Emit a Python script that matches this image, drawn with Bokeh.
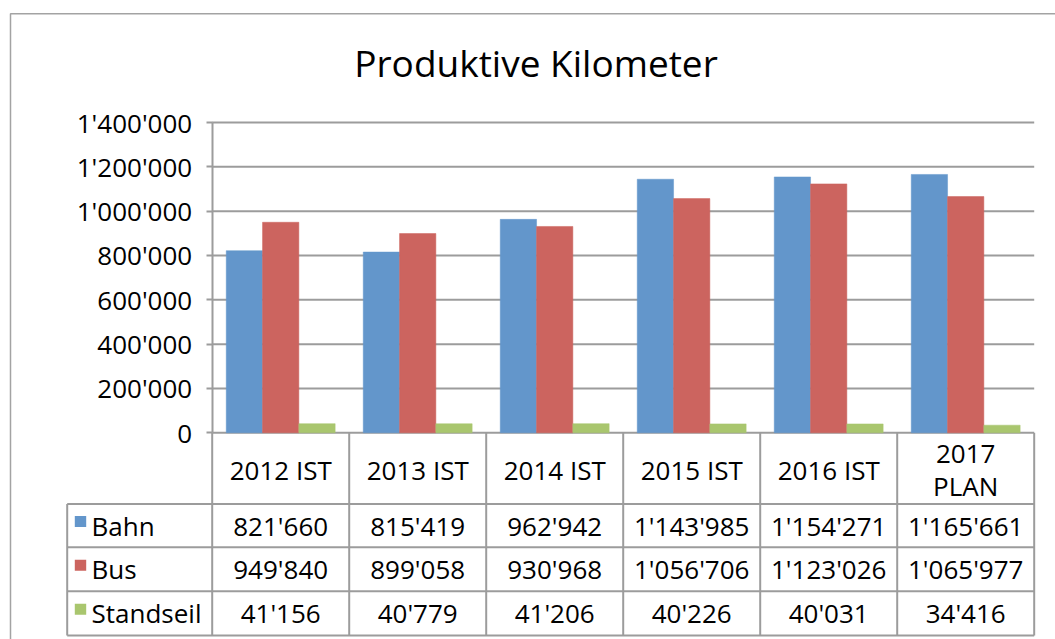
from bokeh.plotting import figure
from bokeh.models import Range1d, LinearAxis, FixedTicker, ColumnDataSource, CustomJSTickFormatter
from bokeh.core.properties import value
from bokeh.embed import file_html
from bokeh.resources import INLINE

# ---------------- data ----------------
categories = ["2012 IST", "2013 IST", "2014 IST", "2015 IST", "2016 IST", "2017\nPLAN"]
series_names = ["Bahn", "Bus", "Standseil"]
bahn = [821660, 815419, 962942, 1143985, 1154271, 1165661]
bus = [949840, 899058, 930968, 1056706, 1123026, 1065977]
standseil = [41156, 40779, 41206, 40226, 40031, 34416]
y_ticks = [0, 200000, 400000, 600000, 800000, 1000000, 1200000, 1400000]
colors = ["#6396CB", "#CC645F", "#A9C66E"]
title_text = "Produktive Kilometer"

series = [bahn, bus, standseil]


def fmt(v):
    return f"{v:,}".replace(",", "'")


# ---------------- geometry (page pixels) ----------------
W, H = 1055, 639
PX0, PY0 = 0, 0
AXIS_X = 211.7
CAT_W = 137.0
Y0_PX = 432.3
YTOP_PX = 122.0
FONT = "Open Sans"
FS = "26px"
LINE = "#9c9c9c"

xs = (PX0 - AXIS_X) / CAT_W
xe = xs + W / CAT_W
ppu = (Y0_PX - YTOP_PX) / y_ticks[-1]
ys = -(PY0 + H - Y0_PX) / ppu
ye = (Y0_PX - PY0) / ppu

p = figure(width=W, height=H, output_backend="svg", toolbar_location=None,
           x_range=Range1d(xs, xe), y_range=Range1d(ys, ye),
           x_axis_location=None, y_axis_location=None, min_border=0)
p.extra_x_ranges = {"px": Range1d(PX0, PX0 + W)}
p.extra_y_ranges = {"px": Range1d(PY0 + H, PY0)}
p.grid.visible = False
p.outline_line_color = None
p.background_fill_color = "white"
p.border_fill_color = "white"

n = len(categories)

# outer chart border
p.line(x=[10, 10, 1060], y=[645, 13.3, 13.3], x_range_name="px", y_range_name="px",
       line_color="#a3a3a3", line_width=1.5)

# gridlines (from tick values)
p.segment(x0=[0] * len(y_ticks), x1=[n] * len(y_ticks), y0=y_ticks, y1=y_ticks,
          line_color=LINE, line_width=2)

# bars
bw = 36.3 / CAT_W
for k, vals in enumerate(series):
    off = (k - 1) * bw
    src = ColumnDataSource(dict(x=[i + 0.5 + off for i in range(n)], top=vals))
    p.vbar(x="x", top="top", bottom=0, width=bw, source=src,
           fill_color=colors[k], line_color=colors[k], line_width=0.5)

# y axis
yax = LinearAxis(ticker=FixedTicker(ticks=y_ticks), fixed_location=0, bounds=(0, y_ticks[-1]))
yax.formatter = CustomJSTickFormatter(code="return String(tick).replace(/\\B(?=(\\d{3})+(?!\\d))/g, \"'\")")
yax.axis_line_color = LINE
yax.axis_line_width = 2
yax.major_tick_line_color = LINE
yax.major_tick_line_width = 2
yax.major_tick_out = 6
yax.major_tick_in = 0
yax.minor_tick_line_color = None
yax.major_label_text_font = FONT
yax.major_label_text_font_size = FS
yax.major_label_text_color = "black"
yax.major_label_standoff = 14
p.add_layout(yax, "left")

# ---------------- data table ----------------
T_LEFT = 66.7
HDR_BOT = 503.5
ROWS = [503.5, 546.7, 590.7, 635.0]
RIGHT = AXIS_X + n * CAT_W

hx0 = [T_LEFT] * len(ROWS)
hx1 = [RIGHT] * len(ROWS)
p.segment(x0=hx0, x1=hx1, y0=ROWS, y1=ROWS, x_range_name="px", y_range_name="px",
          line_color=LINE, line_width=2)
vx = [T_LEFT] + [AXIS_X + CAT_W * i for i in range(n + 1)]
vy0 = [HDR_BOT] + [Y0_PX] * (n + 1)
vy1 = [ROWS[-1]] * (n + 2)
p.segment(x0=vx, x1=vx, y0=vy0, y1=vy1, x_range_name="px", y_range_name="px",
          line_color=LINE, line_width=2)

# header (category names)
p.text(x=[i + 0.5 for i in range(n)], y=[469] * n, text=categories, y_range_name="px",
       text_font=value(FONT), text_font_size=FS, text_color="black",
       text_align="center", text_baseline="middle", text_line_height=0.9)

# values
for k, vals in enumerate(series):
    yc = (ROWS[k] + ROWS[k + 1]) / 2
    p.text(x=[i + 0.5 for i in range(n)], y=[yc] * n, text=[fmt(v) for v in vals],
           y_range_name="px", text_font=value(FONT), text_font_size=FS,
           text_color="black", text_align="center", text_baseline="middle")

# legend keys in the table
row_c = [(ROWS[k] + ROWS[k + 1]) / 2 for k in range(3)]
p.rect(x=[80.0] * 3, y=[c - 4 for c in row_c], width=11.4, height=11, fill_color=colors,
       line_color=None, x_range_name="px", y_range_name="px")
p.text(x=[91.0] * 3, y=row_c, text=series_names, x_range_name="px", y_range_name="px",
       text_font=value(FONT), text_font_size=FS, text_color="black",
       text_align="left", text_baseline="middle")

# title
p.text(x=[535.5], y=[62.0], text=[title_text], x_range_name="px", y_range_name="px",
       text_font=value(FONT), text_font_size="37px", text_color="black",
       text_align="center", text_baseline="middle")

open("out.html", "w").write(file_html(p, INLINE))
